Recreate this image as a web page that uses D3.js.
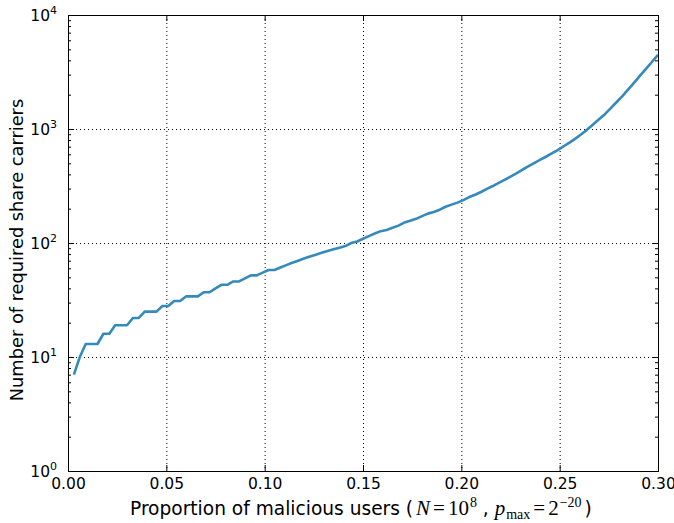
<!DOCTYPE html>
<html><head><meta charset="utf-8">
<script src="https://cdn.jsdelivr.net/npm/d3@7"></script>
<style>body{margin:0;background:#fff}svg{display:block}</style>
</head><body><svg id="c" width="674" height="523"></svg>
<script>
// proportion of malicious users (x) and required share carriers (y)
const xValues = [0.003,0.006,0.009,0.012,0.015,0.018,0.021,0.024,0.027,0.030,
  0.033,0.036,0.039,0.042,0.045,0.048,0.051,0.054,0.057,0.060,
  0.063,0.066,0.069,0.072,0.075,0.078,0.081,0.084,0.087,0.090,
  0.093,0.096,0.099,0.102,0.105,0.108,0.111,0.114,0.117,0.120,
  0.123,0.126,0.129,0.132,0.135,0.138,0.141,0.144,0.147,0.150,
  0.153,0.156,0.159,0.162,0.165,0.168,0.171,0.174,0.177,0.180,
  0.183,0.186,0.189,0.192,0.195,0.198,0.201,0.204,0.207,0.210,
  0.213,0.216,0.219,0.222,0.225,0.228,0.231,0.234,0.237,0.240,
  0.243,0.246,0.249,0.252,0.255,0.258,0.261,0.264,0.267,0.270,
  0.273,0.276,0.279,0.282,0.285,0.288,0.291,0.294,0.297,0.300];
const yValues = [7,10,13,13,13,16,16,19,19,19,
  22,22,25,25,25,28,28,31,31,34,
  34,34,37,37,40,43,43,46,46,49,
  52,52,55,58,58,61,64,67,70,73,
  76,79,82,85,88,91,94,100,103,109,
  115,121,127,130,136,142,151,157,163,172,
  181,187,196,208,217,226,238,253,265,280,
  298,316,337,358,382,409,439,469,502,535,
  571,610,652,706,760,823,901,988,1096,1216,
  1348,1525,1726,1951,2239,2569,2950,3388,3889,4468];
const xTicks = [0,0.05,0.10,0.15,0.20,0.25,0.30];
const xTickLabels = ["0.00","0.05","0.10","0.15","0.20","0.25","0.30"];
const yTicks = [1,10,100,1000,10000];
const yTickExponents = ["0","1","2","3","4"];
const yMinorTicks = [2,3,4,5,6,7,8,9,20,30,40,50,60,70,80,90,200,300,400,500,600,700,800,900,2000,3000,4000,5000,6000,7000,8000,9000];
const xLabelText = "Proportion of malicious users";
const yLabelText = "Number of required share carriers";

const L = 68, T = 15, W = 590, H = 456;
const svg = d3.select("#c");
const g = svg.append("g").attr("transform", `translate(${L},${T})`);
const x = d3.scaleLinear().domain([0, 0.3]).range([0, W]);
const y = d3.scaleLog().domain([1, 10000]).range([H, 0]);

// grid
const grid = g.append("g").attr("stroke", "#000").attr("stroke-width", 1)
  .attr("stroke-dasharray", "1,3").attr("fill", "none");
grid.selectAll("line.v").data(xTicks).join("line")
  .attr("x1", d => x(d) + 0.5).attr("x2", d => x(d) + 0.5).attr("y1", 0).attr("y2", H);
grid.selectAll("line.h").data(yTicks).join("line")
  .attr("y1", d => y(d) + 0.5).attr("y2", d => y(d) + 0.5).attr("x1", 0).attr("x2", W);

// curve
const pts = xValues.map((v, i) => [v, yValues[i]]);
g.append("path").datum(pts)
  .attr("fill", "none").attr("stroke", "#348ABD").attr("stroke-width", 2.6)
  .attr("stroke-linejoin", "round")
  .attr("d", d3.line().x(d => x(d[0])).y(d => y(d[1])));

// ticks (inward on all sides)
function clean(sel){ sel.select(".domain").remove(); sel.selectAll("line").attr("stroke","#000").attr("stroke-width",1); }
g.append("g").attr("transform", `translate(0,${H})`)
  .call(d3.axisBottom(x).tickValues(xTicks).tickSize(-6).tickPadding(7)
    .tickFormat((d, i) => xTickLabels[i]))
  .call(clean)
  .call(s => s.selectAll("text").attr("font-family", "DejaVu Sans").attr("font-size", 15.5).attr("fill", "#000"));
g.append("g").call(d3.axisTop(x).tickValues(xTicks).tickSize(-6).tickFormat("")).call(clean);
g.append("g").call(d3.axisLeft(y).tickValues(yTicks).tickSize(-6).tickFormat("")).call(clean);
g.append("g").call(d3.axisLeft(y).tickValues(yMinorTicks).tickSize(-3).tickFormat("")).call(clean);
g.append("g").attr("transform", `translate(${W},0)`)
  .call(d3.axisRight(y).tickValues(yTicks).tickSize(-6).tickFormat("")).call(clean);
g.append("g").attr("transform", `translate(${W},0)`)
  .call(d3.axisRight(y).tickValues(yMinorTicks).tickSize(-3).tickFormat("")).call(clean);

// y tick labels 10^n
const yl = g.append("g").attr("font-family", "DejaVu Sans").attr("fill", "#000");
yTicks.forEach((d, i) => {
  const t = yl.append("text").attr("x", -11).attr("y", y(d) + 5.7)
    .attr("text-anchor", "end").attr("font-size", 15.5);
  t.append("tspan").text("10");
  t.append("tspan").attr("dy", -6.5).attr("font-size", 11).text(yTickExponents[i]);
});

// frame
g.append("rect").attr("x", 0.5).attr("y", 0.5).attr("width", W).attr("height", H)
  .attr("fill", "none").attr("stroke", "#000").attr("stroke-width", 1);

// axis labels
const xl = svg.append("text").attr("x", 130).attr("y", 514.5)
  .attr("text-anchor", "start").attr("font-family", "DejaVu Sans").attr("font-size", 18.6).attr("fill", "#000");
const serif = "Liberation Serif";
const M = 21, S = 14;
xl.append("tspan").text(xLabelText + " (");
xl.append("tspan").attr("dx", 3).attr("font-family", serif).attr("font-style", "italic").attr("font-size", M).text("N");
xl.append("tspan").attr("dx", 3).attr("font-family", serif).attr("font-size", M).text("=");
xl.append("tspan").attr("dx", 3).attr("font-family", serif).attr("font-size", M).text("10");
xl.append("tspan").attr("dx", 1).attr("font-family", serif).attr("font-size", S).attr("dy", -8).text("8");
xl.append("tspan").attr("dy", 8).text(" , ");
xl.append("tspan").attr("font-family", serif).attr("font-style", "italic").attr("font-size", M).text("p");
xl.append("tspan").attr("dx", 1).attr("font-family", serif).attr("font-size", S).attr("dy", 4).text("max");
xl.append("tspan").attr("dx", 3).attr("font-family", serif).attr("font-size", M).attr("dy", -4).text("=");
xl.append("tspan").attr("dx", 3).attr("font-family", serif).attr("font-size", M).text("2");
xl.append("tspan").attr("dx", 1).attr("font-family", serif).attr("font-size", S).attr("dy", -8).text("\u221220");
xl.append("tspan").attr("dx", 3).attr("dy", 8).text(")");

svg.append("text").attr("transform", "translate(23,250) rotate(-90)")
  .attr("text-anchor", "middle").attr("font-family", "DejaVu Sans").attr("font-size", 17.8)
  .attr("fill", "#000").text(yLabelText);
</script></body></html>
